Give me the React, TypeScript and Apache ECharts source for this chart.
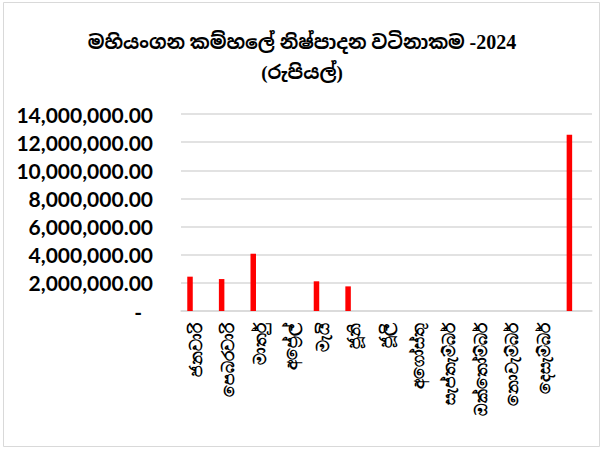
import React, { useEffect, useRef } from "react";
import * as echarts from "echarts";

const titleSinhala = "මහියංගන කම්හලේ නිෂ්පාදන වටිනාකම";
const titleYear = "-2024";
const titleLine2 = "(රුපියල්)";
const categories = [
  "ජනවාරි",
  "පෙබරවාරි",
  "මාර්තු",
  "අප්‍රේල්",
  "මැයි",
  "ජූනි",
  "ජූලි",
  "අගෝස්තු",
  "සැප්තැම්බර්",
  "ඔක්තෝම්බර්",
  "නොවැම්බර්",
  "දෙසැම්බර්",
  "",
];
const values = [2440000, 2270000, 4070000, 0, 2110000, 1750000, 0, 0, 0, 0, 0, 0, 12530000];
const yTicks = { min: 0, max: 14000000, interval: 2000000 };

export default function App() {
  const ref = useRef<HTMLDivElement>(null);
  useEffect(() => {
    document.body.style.margin = "0";
    if (!ref.current) return;
    const chart = echarts.init(ref.current, undefined, { renderer: "svg" });
    chart.setOption({
      animation: false,
      backgroundColor: "#ffffff",
      graphic: [
        {
          type: "rect",
          shape: { x: 3.5, y: 2.5, width: 596, height: 444 },
          style: { fill: "none", stroke: "#d9d9d9", lineWidth: 1 },
        },
      ],
      title: {
        text: "{s|" + titleSinhala + " }{y|" + titleYear + "}\n{s|" + titleLine2 + "}",
        left: "center",
        top: 22,
        textStyle: {
          align: "center",
          rich: {
            s: {
              fontFamily: "'Liberation Serif', 'Noto Sans Sinhala', serif",
              fontSize: 19,
              fontWeight: "bold",
              color: "#000",
              lineHeight: 30,
            },
            y: {
              fontFamily: "'Liberation Serif', serif",
              fontSize: 20,
              fontWeight: "bold",
              color: "#000",
              lineHeight: 30,
            },
          },
        },
      },
      grid: { left: 181, right: 12, top: 114, bottom: 139, containLabel: false },
      xAxis: {
        type: "category",
        data: categories,
        axisLine: { lineStyle: { color: "#d9d9d9", width: 1.5 } },
        axisTick: { show: false },
        axisLabel: {
          rotate: 90,
          interval: 0,
          margin: 12,
          fontSize: 17,
          fontWeight: "bold",
          color: "#000",
          fontFamily: "sans-serif",
        },
      },
      yAxis: {
        type: "value",
        min: yTicks.min,
        max: yTicks.max,
        interval: yTicks.interval,
        axisLine: { show: false },
        axisTick: { show: false },
        splitLine: { lineStyle: { color: "#d9d9d9", width: 1.5 } },
        axisLabel: {
          margin: 28,
          fontSize: 21,
          fontWeight: "bold",
          color: "#000",
          fontFamily: "Lato, sans-serif",
          formatter: (v: number) =>
            v === 0
              ? "{d|-}"
              : v.toLocaleString("en-US", { minimumFractionDigits: 2, maximumFractionDigits: 2 }),
          rich: {
            d: { fontSize: 21, fontWeight: "bold", fontFamily: "Lato, sans-serif", padding: [0, 11, 0, 0] },
          },
        },
      },
      series: [
        {
          type: "bar",
          data: values,
          barWidth: 5.5,
          barGap: "147%",
          itemStyle: { color: "#ff0000" },
        },
        {
          type: "bar",
          data: values.map(() => 0),
          barWidth: 5.5,
          barGap: "147%",
          itemStyle: { color: "rgba(0,0,0,0)" },
        },
      ],
    });
    return () => chart.dispose();
  }, []);
  return <div ref={ref} style={{ width: 604, height: 450 }} />;
}
